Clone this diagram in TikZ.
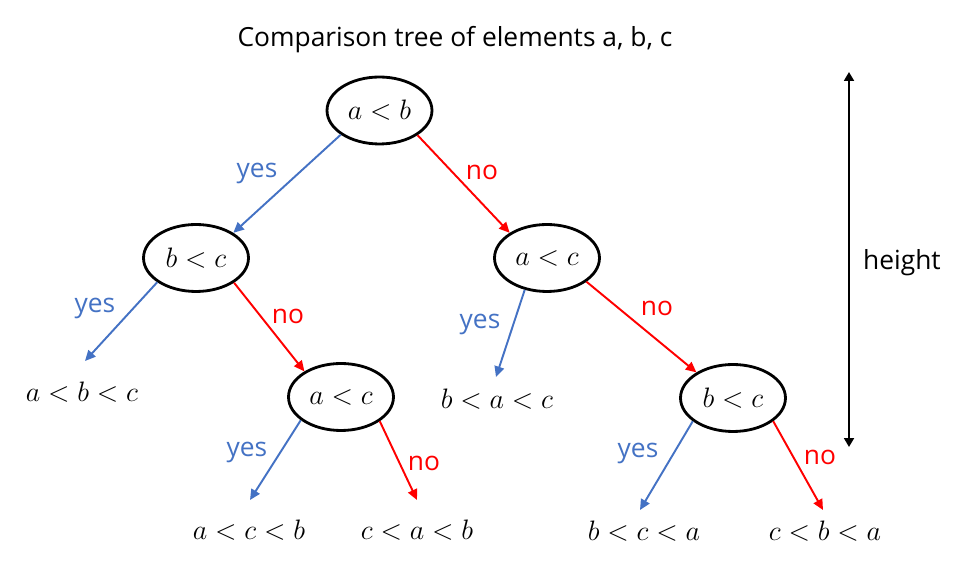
\RequirePackage{fix-cm}
\documentclass[tikz,border=0pt]{standalone}
\usepackage{fontspec}
\setmainfont{Open Sans}
\usetikzlibrary{shapes.geometric,arrows.meta,calc}
\usepackage{xcolor}
\definecolor{yesblue}{HTML}{4472C4}
\definecolor{nored}{HTML}{FF0000}
\tikzset{
    test/.style={draw,ellipse,line width=1.6pt,minimum width=2.1cm,
        minimum height=1.34cm,inner sep=0pt,font=\fontsize{16}{18}\selectfont},
    leaf/.style={inner sep=0pt,font=\fontsize{16}{18}\selectfont},
    yesarrow/.style={yesblue,line width=1.1pt,-{Triangle[length=6pt,width=5.5pt]}},
    noarrow/.style={nored,line width=1.1pt,-{Triangle[length=6pt,width=5.5pt]}},
    yestext/.style={text=yesblue,font=\fontsize{15}{17}\selectfont},
    notext/.style={text=nored,font=\fontsize{15}{17}\selectfont},
}
% #1 yes/no, #2 from, #3 to, #4 label name, #5 label position
\newcommand{\branch}[5] {
    \draw[#1arrow] (#2) -- (#3);
    \node[#1text] (#4) at (#5) {#1};
}

\begin{document}
\begin{tikzpicture}[x=0.02cm,y=-0.02cm]
    \useasboundingbox (0,0) rectangle (961,563);
    \node[font=\fontsize{15}{17}\selectfont] (title) at (455,40) {Comparison tree of elements a, b, c};

    % comparisons
    \node[test] (ab)  at (379.5,110.5) {$a<b$};
    \node[test] (bc)  at (196,258)     {$b<c$};
    \node[test] (ac)  at (547,258)     {$a<c$};
    \node[test] (acm) at (341,397)     {$a<c$};
    \node[test] (bcr) at (733,398)     {$b<c$};

    % orders
    \node[leaf] (abc) at (82,392)  {$a<b<c$};
    \node[leaf] (bac) at (497,399) {$b<a<c$};
    \node[leaf] (acb) at (249,530) {$a<c<b$};
    \node[leaf] (cab) at (417,530) {$c<a<b$};
    \node[leaf] (bca) at (644,531) {$b<c<a$};
    \node[leaf] (cba) at (825,531) {$c<b<a$};

    \branch{yes}{ab.212}{bc.34}{y1}{257,173}
    \branch{no}{ab.327}{ac.146}{n1}{482,172}
    \branch{yes}{bc.212}{$(abc)+(3,-31)$}{y2}{95,308}
    \branch{no}{bc.327}{acm.145}{n2}{288,316}
    \branch{yes}{ac.235}{$(bac)+(-1,-22)$}{y3}{480,324}
    \branch{no}{ac.329}{bcr.145}{n3}{657,308}
    \branch{yes}{acm.210}{$(acb)+(1,-30)$}{y4}{247,452}
    \branch{no}{acm.328}{$(cab)+(0,-30)$}{n4}{424,463}
    \branch{yes}{bcr.210}{$(bca)+(-4,-21)$}{y5}{638,453}
    \branch{no}{bcr.330}{$(cba)+(-2,-21)$}{n5}{820,457}

    % height
    \coordinate (htop) at (849,72);
    \coordinate (hbot) at (849,447);
    \draw[line width=1.6pt,{Triangle[length=5pt,width=5.5pt]}-{Triangle[length=5pt,width=5.5pt]}] (htop) -- (hbot);
    \node[font=\fontsize{15}{17}\selectfont] (hlabel) at (902,263) {height};
\end{tikzpicture}
\end{document}
